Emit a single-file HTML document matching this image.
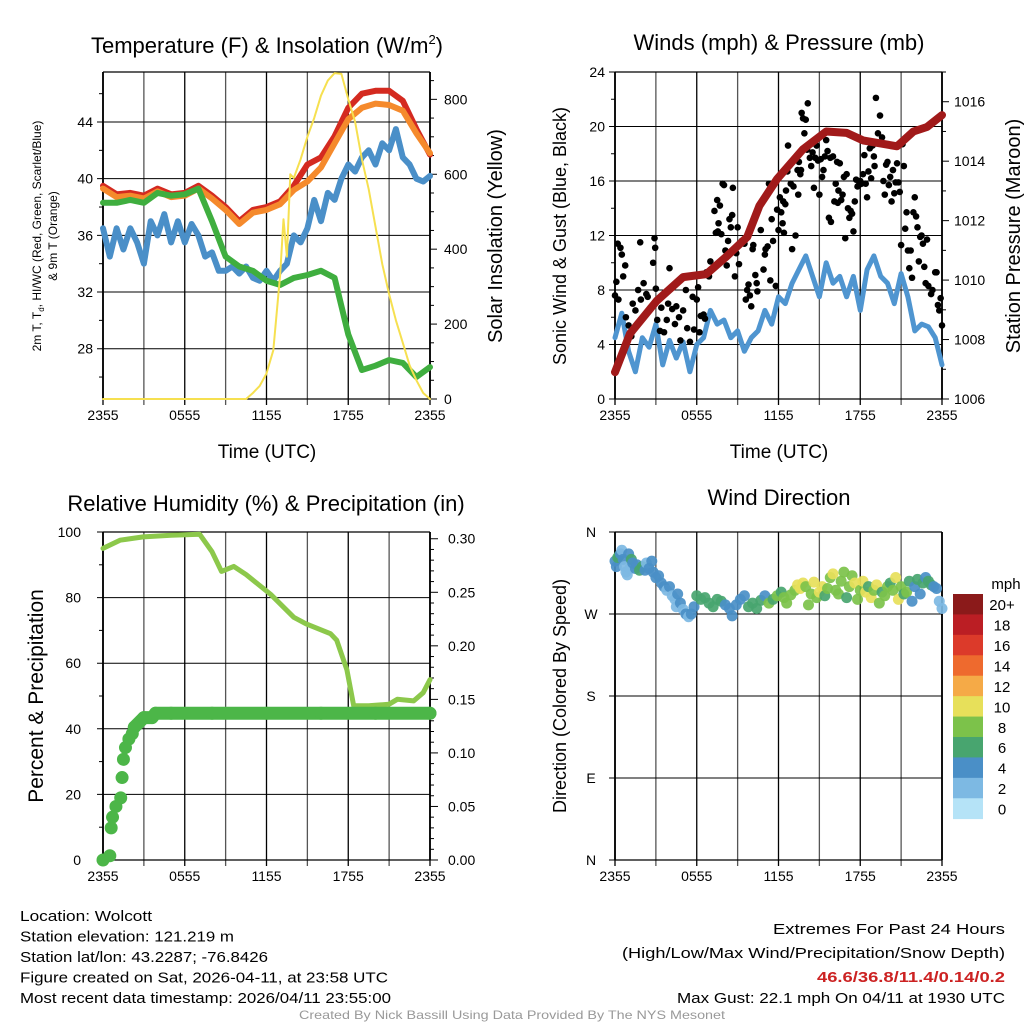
<!DOCTYPE html>
<html><head><meta charset="utf-8"><style>
html,body{margin:0;padding:0;background:#fff}
svg{display:block;font-family:"Liberation Sans",sans-serif}
</style></head><body>
<svg id="c" width="1024" height="1024" viewBox="0 0 1024 1024" xmlns="http://www.w3.org/2000/svg"></svg>
<script>
// ---------- DATA ----------
const hoursTicks=["2355","0555","1155","1755","2355"];
const tempT=[0,1,2,3,4,5,6,7,8,9,10,11,12,13,14,15,16,17,18,19,20,21,22,23,24];
const tempRed=[39.5,38.9,39.0,38.8,39.3,38.9,39.0,39.5,38.8,38.0,37.0,37.8,38.0,38.4,39.5,41.0,41.5,43.0,45.0,46.0,46.2,46.2,45.5,43.5,41.7];
const tempOrange=[39.3,38.7,38.8,38.6,39.1,38.7,38.8,39.3,38.6,37.8,36.8,37.6,37.8,38.2,39.2,39.8,40.8,42.5,44.2,45.0,45.3,45.2,44.8,43.2,41.8];
const tempGreen=[38.3,38.3,38.5,38.3,39.0,38.8,38.9,39.3,37.0,34.5,33.8,33.5,32.8,32.5,33.0,33.2,33.5,33.0,29.0,26.5,26.8,27.2,27.0,26.0,26.7];
const blueT=[0,0.5,1,1.5,2,2.5,3,3.5,4,4.5,5,5.5,6,6.5,7,7.5,8,8.5,9,9.5,10,10.5,11,11.5,12,12.5,13,13.5,14,14.5,15,15.5,16,16.5,17,17.5,18,18.5,19,19.5,20,20.5,21,21.5,22,22.5,23,23.5,24];
const tempBlue=[36.5,34.5,36.5,35,36.5,35.5,34,37,36,37.5,35.5,37,35.5,36.8,36,34.5,34.8,33.5,33.5,33.8,33.3,33.8,33,32.8,33.5,32.8,33.5,34,36,35.5,36.5,38.5,37,39,38.5,40,41,40.5,41.5,42,41,42.5,42,43.5,41.5,41,40,39.8,40.2];
const solarT=[0,10.5,11,11.5,12,12.5,13,13.25,13.5,13.75,14,14.5,15,15.5,16,16.5,17,17.5,18,18.5,19,19.5,20,20.5,21,21.5,22,22.5,23,23.5,24];
const solarV=[0,0,16,35,68,130,330,480,380,600,590,640,700,750,810,850,870,868,800,740,640,560,460,360,280,210,150,90,50,16,0];

const windT=blueT;
const windSpd=[4.5,6.3,3.5,2.0,4.5,3.8,5.5,2.5,4.3,3.0,4.2,2.0,4.0,4.5,6.5,5.5,5.8,4.5,5.0,3.5,4.5,5.0,6.5,5.5,7.5,7.0,8.5,9.5,10.5,9.0,7.5,10.0,8.5,9.0,7.5,9.0,6.5,9.5,10.5,9.0,8.5,7.0,9.2,7.5,5.0,5.5,5.3,4.5,2.5];
const presT=[0,1.1,3.06,5.0,6.7,8.2,9.7,10.6,11.9,13.8,15.5,17.0,18.2,20.7,21.9,22.9,24];
const presV=[1006.9,1008.2,1009.3,1010.1,1010.2,1010.8,1011.45,1012.5,1013.4,1014.4,1015.0,1014.95,1014.7,1014.5,1015.0,1015.15,1015.55];
const gustT=[0.0,0.1,0.2,0.4,0.5,0.25,0.6,0.75,0.8,1.0,1.2,1.3,1.5,1.7,1.85,1.9,2.1,2.3,2.4,2.6,2.8,2.9,2.95,3.0,3.1,3.3,3.4,3.6,3.8,3.9,4.0,4.2,4.4,4.5,4.7,4.8,5.0,5.2,5.3,5.5,5.7,5.8,6.0,6.1,6.2,6.3,6.5,6.6,6.7,6.9,7.0,7.2,7.3,7.4,7.5,7.55,7.6,7.7,7.8,7.9,8.0,8.1,8.2,8.3,8.4,8.5,8.6,8.65,8.8,8.9,9.0,9.1,9.2,9.3,9.5,9.6,9.7,9.8,9.9,10.0,10.1,10.15,10.3,10.4,10.45,10.6,10.7,10.9,11.0,11.05,11.2,11.3,11.4,11.5,11.6,11.7,11.8,11.9,12.0,12.1,12.2,12.3,12.35,12.4,12.5,12.55,12.65,12.7,12.9,13.0,13.1,13.25,13.4,13.45,13.5,13.6,13.65,13.7,13.8,13.9,14.0,14.1,14.15,14.3,14.4,14.5,14.6,14.7,14.8,14.9,15.0,15.1,15.2,15.3,15.4,15.5,15.6,15.7,15.8,15.85,16.0,16.1,16.2,16.3,16.35,16.4,16.5,16.6,16.7,16.8,16.9,17.0,17.1,17.2,17.3,17.4,17.5,17.6,17.7,17.8,17.9,18.0,18.1,18.2,18.3,18.4,18.5,18.6,18.7,18.8,18.9,19.0,19.05,19.15,19.3,19.45,19.6,19.7,19.8,19.9,20.0,20.1,20.2,20.3,20.4,20.5,20.6,20.7,20.8,20.9,21.0,21.1,21.2,21.3,21.4,21.5,21.6,21.7,21.8,21.9,22.0,22.1,22.2,22.3,22.4,22.5,22.6,22.7,22.8,22.9,23.0,23.2,23.3,23.5,23.6,23.7,23.8,23.9,24.0];
const gustV=[7.6,8.6,11.4,11.1,10.6,7.3,9.0,9.8,6.0,5.4,4.6,7.0,6.5,8.0,11.5,7.3,8.5,7.7,7.5,6.7,10.0,11.8,11.1,8.1,5.8,5.0,6.7,4.9,5.8,7.0,9.6,6.6,5.5,6.8,6.0,4.3,6.5,8.0,5.2,4.2,7.5,5.1,7.3,8.2,4.9,6.1,6.2,5.9,9.3,9.0,10.1,9.6,13.8,12.2,14.6,12.3,12.9,14.2,12.1,15.8,15.7,10.9,9.8,11.6,13.2,12.6,13.5,15.5,9.0,10.7,12.6,9.9,11.4,11.6,11.4,7.3,8.0,8.4,7.6,6.8,11.0,11.3,9.1,8.5,7.9,14.1,12.4,9.5,10.6,11.0,11.2,15.8,8.7,13.2,11.6,15.9,8.3,13.9,12.4,14.8,13.7,12.9,14.5,12.2,14.3,15.3,16.7,18.6,15.8,11.0,15.6,12.0,16.8,15.0,17.4,16.5,16.8,21.0,20.6,19.5,20.5,18.3,21.7,17.7,17.1,18.1,15.5,17.7,18.6,17.5,15.0,17.6,16.3,16.8,17.8,19.0,18.2,13.3,17.7,13.0,17.8,14.5,15.8,17.4,14.4,15.3,17.3,14.6,15.0,16.3,11.8,16.5,14.0,13.3,13.8,13.6,12.3,14.5,16.1,15.6,15.7,16.0,15.8,16.5,17.9,15.8,14.8,16.7,18.4,16.2,18.6,17.8,17.1,22.1,19.5,20.8,19.2,16.0,15.0,17.2,17.4,15.7,16.3,14.5,16.8,15.1,15.9,17.3,15.9,15.2,11.3,18.7,17.1,12.5,13.7,10.9,9.6,10.9,8.9,13.7,14.8,13.4,12.6,10.1,11.9,12.0,11.4,9.7,8.5,11.7,8.3,7.7,8.0,9.3,9.3,6.9,6.5,7.4,5.4];

const rhT=[0,1.25,2.95,5,7.1,8.0,8.7,9.6,10.5,12.3,14.0,14.9,16.7,17.15,17.9,18.4,19.5,21.0,21.6,22.8,23.5,24];
const rhV=[95,97.5,98.5,99,99.3,94,88,89.5,87,81,74,72,69,67,58,47,47,47.5,49,48.5,51,55];
const precipT=[0,0.5,0.6,0.7,0.95,1.3,1.4,1.5,1.65,1.9,2.15,2.3,3.0,3.6,3.85,5,8,12,16,20,24];
const precipV=[0,0.004,0.03,0.04,0.05,0.058,0.077,0.094,0.105,0.113,0.118,0.124,0.133,0.133,0.137,0.137,0.137,0.137,0.137,0.137,0.137];

const dirT=[0.0,0.1,0.2,0.3,0.4,0.5,0.6,0.7,0.8,0.9,1.0,1.1,1.2,1.3,1.5,1.6,1.8,2.0,2.2,2.3,2.5,2.7,2.8,3.0,3.2,3.4,3.6,3.8,4.0,4.2,4.4,4.5,4.6,4.8,5.0,5.2,5.4,5.6,5.8,6.0,6.3,6.6,6.9,7.2,7.5,7.8,8.1,8.4,8.6,8.9,9.2,9.5,9.8,10.1,10.4,10.7,11.0,11.3,11.6,11.9,12.2,12.4,12.6,12.9,13.2,13.4,13.6,13.8,14.0,14.2,14.4,14.6,14.8,15.0,15.2,15.4,15.6,15.8,16.0,16.2,16.4,16.6,16.8,17.0,17.2,17.4,17.6,17.8,18.0,18.2,18.4,18.6,18.8,19.0,19.2,19.4,19.6,19.8,20.0,20.2,20.4,20.6,20.8,21.0,21.2,21.4,21.6,21.8,22.0,22.2,22.4,22.6,22.8,23.0,23.2,23.4,23.6,23.8,24.0];
const dirDeg=[328,322,332,334,336,340,330,322,316,313,336,320,330,326,320,324,318,322,318,326,320,328,316,310,312,304,300,296,300,290,286,278,292,282,275,270,267,270,278,290,286,288,282,278,286,284,280,276,268,280,286,290,278,282,276,285,290,282,286,290,294,288,282,291,296,302,298,304,300,280,292,305,288,294,300,290,298,310,314,296,292,306,316,288,300,312,304,286,296,306,294,300,288,296,302,282,294,290,300,304,296,310,286,300,292,294,306,284,300,308,292,304,310,306,302,300,298,284,276];
const dirSpd=[4,4,6,6,4,2,4,2,2,2,4,2,6,4,4,4,6,6,4,2,4,4,4,4,4,4,4,2,4,2,2,2,4,4,2,4,2,4,4,6,6,6,6,6,6,6,4,4,4,4,4,4,6,6,6,6,4,8,6,8,6,8,8,8,8,10,10,10,8,8,8,10,8,10,10,6,8,8,10,8,8,8,8,6,8,8,10,8,8,10,10,6,10,8,10,8,6,8,8,6,8,10,10,8,6,8,6,4,4,6,4,6,4,6,6,4,4,2,2];
const speedBins=["0","2","4","6","8","10","12","14","16","18","20+"];
const speedColors=["#b5e3f7","#7db9e3","#4a8fc7","#48a56f","#7cc24a","#e7e05a","#f5aa47","#ee6a2e","#dc3a2a","#bb1e24","#8b1a1a"];

// ---------- HELPERS ----------
const NS="http://www.w3.org/2000/svg";
const svg=document.getElementById('c');
function mk(tag,attrs,parent){const e=document.createElementNS(NS,tag);for(const k in attrs)e.setAttribute(k,attrs[k]);(parent||svg).appendChild(e);return e;}
function txt(s,x,y,size,anchor,parent,extra){const e=mk('text',Object.assign({x:x,y:y,'font-size':size,'text-anchor':anchor||'middle',fill:'#000'},extra||{}),parent);e.textContent=s;return e;}
const X0=103,X1=430,X0b=615,X1b=942;
function xs(x0,x1){return t=>x0+t/24*(x1-x0);}
function ys(y0,y1,v0,v1){return v=>y1-(v-v0)/(v1-v0)*(y1-y0);}

function frame(g,x0,x1,y0,y1,hVals,yL){
  for(let i=0;i<=8;i++){const x=x0+i*(x1-x0)/8;
    const l=mk('line',{x1:x,y1:y0,x2:x,y2:y1+6,stroke:i%2?'#555':'#000','stroke-width':1.3},g);
    }
  hVals.forEach(v=>{const y=yL(v);const l=mk('line',{x1:x0-6,y1:y,x2:x1,y2:y,stroke:'#000','stroke-width':1},g);
    });
  mk('line',{x1:x0,y1:y0,x2:x1,y2:y0,stroke:'#000','stroke-width':1.2},g);
  mk('line',{x1:x0,y1:y1,x2:x1,y2:y1,stroke:'#000','stroke-width':1.2},g);
  mk('line',{x1:x0,y1:y0,x2:x0,y2:y1,stroke:'#000','stroke-width':1.8},g);
  mk('line',{x1:x1,y1:y0,x2:x1,y2:y1,stroke:'#000','stroke-width':1.8},g);
  hoursTicks.forEach((s,i)=>{const t=txt(s,x0+i*(x1-x0)/4,y1+21,14,'middle',g);
    });
}
function minor(g,x,vals,yF,dir,len){vals.forEach(v=>mk('line',{x1:x,y1:yF(v),x2:x+dir*len,y2:yF(v),stroke:'#000','stroke-width':1},g));}
function poly(g,ts,vs,xF,yF,color,w,name){const p=mk('polyline',{points:ts.map((t,i)=>xF(t).toFixed(1)+','+yF(vs[i]).toFixed(1)).join(' '),fill:'none',stroke:color,'stroke-width':w,'stroke-linejoin':'round','stroke-linecap':'round'},g);
  return p;}

// ---------- PANEL 1: Temperature ----------
{
const g=mk('g',{});
const x=xs(X0,X1),y=ys(72,399,24.45,47.53),ys2=ys(72,399,0,873);
frame(g,X0,X1,72,399,[28,32,36,40,44],y);
minor(g,X0,[26,30,34,38,42,46],y,-1,4);
[0,200,400,600,800].forEach(v=>{mk('line',{x1:X1,y1:ys2(v),x2:X1+7,y2:ys2(v),stroke:'#000'},g);const t=txt(String(v),X1+14,ys2(v)+5,14,'start',g);});
minor(g,X1,[50,100,150,250,300,350,450,500,550,650,700,750,850],ys2,1,4);
[28,32,36,40,44].forEach(v=>{const t=txt(String(v),X0-10,y(v)+5,14,'end',g);});
poly(g,tempT,tempRed,x,y,'#d42a20',6,'temp-red-line');
poly(g,tempT,tempOrange,x,y,'#f58a2c',6,'temp-orange-line');
poly(g,blueT,tempBlue,x,y,'#4a8fc8',6,'windchill-blue-line');
poly(g,tempT,tempGreen,x,y,'#3fae3f',6,'dewpoint-green-line');
poly(g,solarT,solarV,x,ys2,'#f6e050',2,'solar-yellow-line');
const tt=mk('text',{x:267,y:53,'font-size':22,'text-anchor':'middle'},g);tt.innerHTML='Temperature (F) &amp; Insolation (W/m<tspan font-size="13" dy="-9">2</tspan><tspan dy="9">)</tspan>';

let a=txt('Time (UTC)',267,458,19,'middle',g);
a=txt('2m T, T_d, HI/WC (Red, Green, Scarlet/Blue)',0,0,12,'middle',g,{transform:'translate(41,236) rotate(-90)'});a.innerHTML='2m T, T<tspan font-size="8" dy="3">d</tspan><tspan dy="-3">, HI/WC (Red, Green, Scarlet/Blue)</tspan>';

a=txt('& 9m T (Orange)',0,0,12,'middle',g,{transform:'translate(57,236) rotate(-90)'});
a=txt('Solar Insolation (Yellow)',0,0,20,'middle',g,{transform:'translate(502,236) rotate(-90)'});
}
// ---------- PANEL 2: Winds ----------
{
const g=mk('g',{});
const x=xs(X0b,X1b),y=ys(72,399,0,24),yp=ys(72,399,1006,1017);
frame(g,X0b,X1b,72,399,[0,4,8,12,16,20,24],y);
minor(g,X0b,[2,6,10,14,18,22],y,-1,4);
[0,4,8,12,16,20,24].forEach(v=>{const t=txt(String(v),X0b-10,y(v)+5,14,'end',g);});
[1006,1008,1010,1012,1014,1016].forEach(v=>{mk('line',{x1:X1b,y1:yp(v),x2:X1b+7,y2:yp(v),stroke:'#000'},g);const t=txt(String(v),X1b+12,yp(v)+5,14,'start',g);});
minor(g,X1b,[1007,1009,1011,1013,1015,1017],yp,1,4);
poly(g,windT,windSpd,x,y,'#4f95d0',5,'wind-speed-line');
gustT.forEach((t,i)=>{const c=mk('circle',{cx:x(t),cy:y(gustV[i]),r:3.3,fill:'#000'},g);});
poly(g,presT,presV,x,yp,'#a11a1a',8,'pressure-line');
let a=txt('Winds (mph) & Pressure (mb)',779,50,22,'middle',g);
a=txt('Time (UTC)',779,458,19,'middle',g);
a=txt('Sonic Wind & Gust (Blue, Black)',0,0,18,'middle',g,{transform:'translate(566,236) rotate(-90)'});
a=txt('Station Pressure (Maroon)',0,0,20,'middle',g,{transform:'translate(1020,236) rotate(-90)'});
}
// ---------- PANEL 3: RH ----------
{
const g=mk('g',{});
const x=xs(X0,X1),y=ys(532,860,0,100),yp=ys(532,860,0,0.3063);
frame(g,X0,X1,532,860,[0,20,40,60,80,100],y);
minor(g,X0,[10,30,50,70,90],y,-1,4);
[0,20,40,60,80,100].forEach(v=>{const t=txt(String(v),X0-22,y(v)+5,14,'end',g);});
[0,0.05,0.1,0.15,0.2,0.25,0.3].forEach(v=>{mk('line',{x1:X1,y1:yp(v),x2:X1+8,y2:yp(v),stroke:'#000'},g);const t=txt(v.toFixed(2),X1+18,yp(v)+5,14,'start',g);});
const mv=[];for(let i=1;i<31;i++)if(i%5)mv.push(i/100);minor(g,X1,mv,yp,1,4);
poly(g,rhT,rhV,x,y,'#8cc84b',5,'rh-line');
const sT=precipT.filter(t=>t>=2.3),sV=precipV.filter((v,i)=>precipT[i]>=2.3);
poly(g,sT,sV,x,yp,'#4cb648',13,'precip-line');
precipT.forEach((t,i)=>{const c=mk('circle',{cx:x(t),cy:yp(precipV[i]),r:6.5,fill:'#4cb648'},g);});
let a=txt('Relative Humidity (%) & Precipitation (in)',266,511,22,'middle',g);
a=txt('Percent & Precipitation',0,0,21,'middle',g,{transform:'translate(43,696) rotate(-90)'});
}
// ---------- PANEL 4: Wind direction ----------
{
const g=mk('g',{});
const x=xs(X0b,X1b),y=ys(532,860,0,360);
frame(g,X0b,X1b,532,860,[0,90,180,270,360],y);
[['N',360],['W',270],['S',180],['E',90],['N',0]].forEach(d=>{const t=txt(d[0],X0b-24,y(d[1])+5,14,'middle',g);});
dirT.forEach((t,i)=>{const b=Math.min(10,Math.floor(dirSpd[i]/2));const c=mk('circle',{cx:x(t),cy:y(dirDeg[i]),r:5.5,fill:speedColors[b],'fill-opacity':0.92},g);});
let a=txt('Wind Direction',779,505,22,'middle',g);
a=txt('Direction (Colored By Speed)',0,0,18,'middle',g,{transform:'translate(566,696) rotate(-90)'});
const lg=mk('g',{},g);
a=txt('mph',1006,589,15,'middle',lg);
const bh=(818.7-594)/11;
for(let i=0;i<11;i++){const k=10-i;const r=mk('rect',{x:953,y:594+i*bh,width:30,height:bh+0.4,fill:speedColors[k]},lg);
 const t=txt(speedBins[k],1002,594+i*bh+bh/2+6,15,'middle',lg);}
}
// ---------- FOOTER TEXT ----------
{
const g=mk('g',{});
const L=[["Location: Wolcott",132],["Station elevation: 121.219 m",214],["Station lat/lon: 43.2287; -76.8426",248],["Figure created on Sat, 2026-04-11, at 23:58 UTC",368],["Most recent data timestamp: 2026/04/11 23:55:00",371]];
L.forEach((l,i)=>{const t=txt(l[0],20,921+i*20.5,14.5,'start',g,{textLength:l[1],lengthAdjust:'spacingAndGlyphs'});});
const g2=mk('g',{});
let t=txt('Extremes For Past 24 Hours',1005,934,15,'end',g2,{textLength:232,lengthAdjust:'spacingAndGlyphs'});
t=txt('(High/Low/Max Wind/Precipitation/Snow Depth)',1005,958,15,'end',g2,{textLength:383,lengthAdjust:'spacingAndGlyphs'});
t=txt('46.6/36.8/11.4/0.14/0.2',1005,982,15,'end',g2,{fill:'#cc2222','font-weight':'bold',textLength:188,lengthAdjust:'spacingAndGlyphs'});
t=txt('Max Gust: 22.1 mph On 04/11 at 1930 UTC',1005,1003,15,'end',g2,{textLength:328,lengthAdjust:'spacingAndGlyphs'});
t=txt('Created By Nick Bassill Using Data Provided By The NYS Mesonet',512,1019,12,'middle',null,{fill:'#999',textLength:426,lengthAdjust:'spacingAndGlyphs'});
}
</script>
</body></html>
